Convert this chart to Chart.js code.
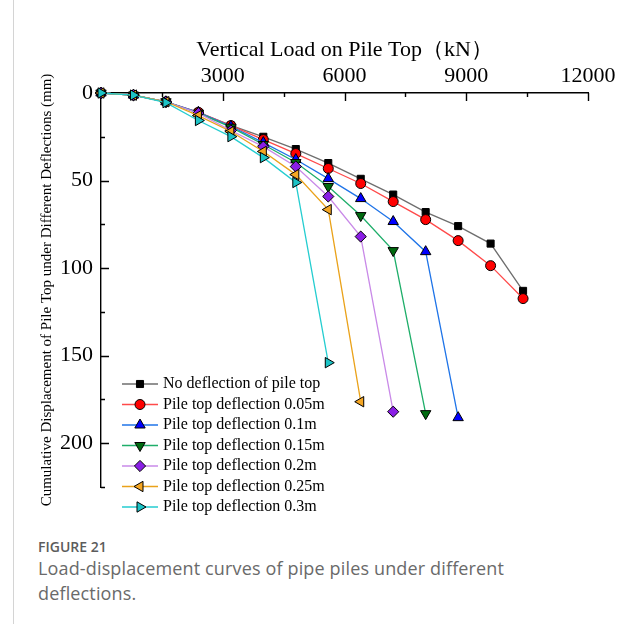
<!DOCTYPE html>
<html>
<head>
<meta charset="utf-8">
<script src="https://cdn.jsdelivr.net/npm/chart.js@4.4.1/dist/chart.umd.min.js"></script>
<style>
  html, body { margin: 0; padding: 0; background: #fff; }
  #page { position: relative; width: 641px; height: 624px; overflow: hidden; }
  #edge { position: absolute; left: 13px; top: 0; width: 1px; height: 624px; background: #d4d4d4; }
  #chart { position: absolute; left: 0; top: 0; }
  #caption { position: absolute; left: 38px; top: 537px; font-family: "Open Sans", "Noto Sans", sans-serif; color: #6a6a6a; }
  #caption .fig { font-size: 14px; font-weight: 600; color: #5c5c5c; line-height: 19px; }
  #caption .txt { font-size: 18px; letter-spacing: 0.15px; line-height: 25px; }
</style>
</head>
<body>
<div id="page">
  <div id="edge"></div>
  <canvas id="chart" width="641" height="520"></canvas>
  <div id="caption">
    <div class="fig">FIGURE 21</div>
    <div class="txt">Load-displacement curves of pipe piles under different<br>deflections.</div>
  </div>
</div>
<script>
// Vertical load steps (kN)
const loads = [0, 800, 1600, 2400, 3200, 4000, 4800, 5600, 6400, 7200, 8000, 8800, 9600, 10400];

// Cumulative displacement (mm) for each deflection case
const noDeflection = [0, 1.2, 5, 11, 18.5, 25, 32, 40, 49, 58, 68, 76, 86, 113];
const defl005 = [0, 1.2, 5, 11, 18.6, 26.6, 34.6, 43.1, 51.7, 62, 72.3, 84.3, 98.6, 117.4];
const defl010 = [0, 1.2, 5, 11, 19, 28.3, 38, 48.9, 60.3, 73.4, 90.6, 185.4];
const defl015 = [0, 1.2, 5, 11.5, 19.5, 29.4, 39.7, 53.4, 70, 90, 183.1];
const defl020 = [0, 1.2, 5, 11.5, 21.4, 30.6, 42, 59.1, 82, 182];
const defl025 = [0, 1.2, 5, 12.9, 22, 33.4, 46.6, 66.6, 176.3];
const defl030 = [0, 1.2, 5.5, 15.7, 24.9, 36.9, 51.1, 154];

const seriesNames = [
  'No deflection of pile top',
  'Pile top deflection 0.05m',
  'Pile top deflection 0.1m',
  'Pile top deflection 0.15m',
  'Pile top deflection 0.2m',
  'Pile top deflection 0.25m',
  'Pile top deflection 0.3m'
];
const seriesValues = [noDeflection, defl005, defl010, defl015, defl020, defl025, defl030];

const lineColors = ['#6e6e6e', '#ff4a4a', '#1f74e8', '#1fae6a', '#c98ae8', '#eaa21a', '#25cdd0'];
const markerColors = ['#000000', '#ff0000', '#0000ff', '#006b10', '#8a1ee6', '#f5a623', '#1cc3c6'];
const markerStyles = ['rect', 'circle', 'triangle', 'triangle', 'rectRot', 'triangle', 'triangle'];
const markerRotation = [0, 0, 0, 180, 0, -90, 90];
const markerRadius = [5, 5, 6, 6, 5.6, 6, 6];

const serif = '"Liberation Serif", "Times New Roman", serif';

const datasets = seriesValues.map((vals, i) => ({
  label: seriesNames[i],
  data: vals.map((v, j) => ({ x: loads[j], y: v })),
  borderColor: lineColors[i],
  borderWidth: 1.3,
  backgroundColor: markerColors[i],
  pointBackgroundColor: markerColors[i],
  pointBorderColor: '#000',
  pointBorderWidth: 1,
  pointStyle: markerStyles[i],
  pointRotation: markerRotation[i],
  pointRadius: markerRadius[i],
  tension: 0,
  clip: false,
  order: seriesValues.length - i
}));

// inward major/minor tick marks
const innerTicks = {
  id: 'innerTicks',
  afterDraw(chart) {
    const { ctx, scales: { x, y }, chartArea } = chart;
    ctx.save();
    ctx.strokeStyle = '#000';
    ctx.lineWidth = 1.4;
    ctx.beginPath();
    for (let v = 1500; v <= 12000; v += 1500) {
      const px = Math.round(x.getPixelForValue(v)) + 0.5;
      const len = v % 3000 === 0 ? 8 : 4;
      ctx.moveTo(px, chartArea.top);
      ctx.lineTo(px, chartArea.top + len);
    }
    for (let v = 25; v <= 225; v += 25) {
      const py = Math.round(y.getPixelForValue(v)) + 0.5;
      const len = v % 50 === 0 ? 8 : 4;
      ctx.moveTo(chartArea.left, py);
      ctx.lineTo(chartArea.left + len, py);
    }
    ctx.stroke();
    ctx.restore();
  }
};

// legend drawn inside the plot area
const innerLegend = {
  id: 'innerLegend',
  afterDraw(chart) {
    const ctx = chart.ctx;
    const x0 = 122, x1 = 158, tx = 163, y0 = 384, dy = 20.5;
    ctx.save();
    ctx.font = '16px ' + serif;
    ctx.textBaseline = 'middle';
    seriesNames.forEach((name, i) => {
      const yy = y0 + i * dy;
      ctx.strokeStyle = lineColors[i];
      ctx.lineWidth = 1.3;
      ctx.beginPath();
      ctx.moveTo(x0, yy);
      ctx.lineTo(x1, yy);
      ctx.stroke();
      ctx.fillStyle = markerColors[i];
      ctx.strokeStyle = '#000';
      ctx.lineWidth = 1;
      Chart.helpers.drawPoint(ctx, {
        pointStyle: markerStyles[i],
        radius: markerRadius[i],
        rotation: markerRotation[i],
        borderWidth: 1
      }, (x0 + x1) / 2, yy);
      ctx.fillStyle = '#000';
      ctx.fillText(name, tx, yy);
    });
    ctx.restore();
  }
};

new Chart(document.getElementById('chart'), {
  type: 'line',
  data: { datasets },
  options: {
    responsive: false,
    animation: false,
    layout: { padding: { left: 0, top: 0, right: 53, bottom: 33 } },
    plugins: {
      legend: { display: false },
      tooltip: { enabled: false }
    },
    scales: {
      x: {
        type: 'linear',
        position: 'top',
        min: 0,
        max: 12000,
        grid: { display: false, drawTicks: false },
        border: { display: true, color: '#000', width: 1.4 },
        ticks: {
          stepSize: 3000,
          padding: 4,
          color: '#000',
          font: { family: serif, size: 22 },
          maxRotation: 0,
          callback: v => (v === 0 ? '' : v)
        },
        title: {
          display: true,
          text: 'Vertical Load on Pile Top（kN）',
          color: '#000',
          font: { family: serif, size: 22 },
          padding: { top: 37, bottom: 0 }
        },
        afterFit: s => { s.height = 93; }
      },
      y: {
        type: 'linear',
        reverse: true,
        min: 0,
        max: 225,
        grid: { display: false, drawTicks: false },
        border: { display: true, color: '#000', width: 1.4 },
        ticks: {
          stepSize: 50,
          padding: 8,
          color: '#000',
          font: { family: serif, size: 22 },
          callback: v => (v % 50 === 0 ? v : '')
        },
        title: {
          display: true,
          text: 'Cumulative Displacement of Pile Top under Different Deflections (mm)',
          color: '#000',
          font: { family: serif, size: 15 },
          padding: { top: 38, bottom: 0 }
        },
        afterFit: s => { s.width = 101; }
      }
    }
  },
  plugins: [innerTicks, innerLegend]
});
</script>
</body>
</html>
